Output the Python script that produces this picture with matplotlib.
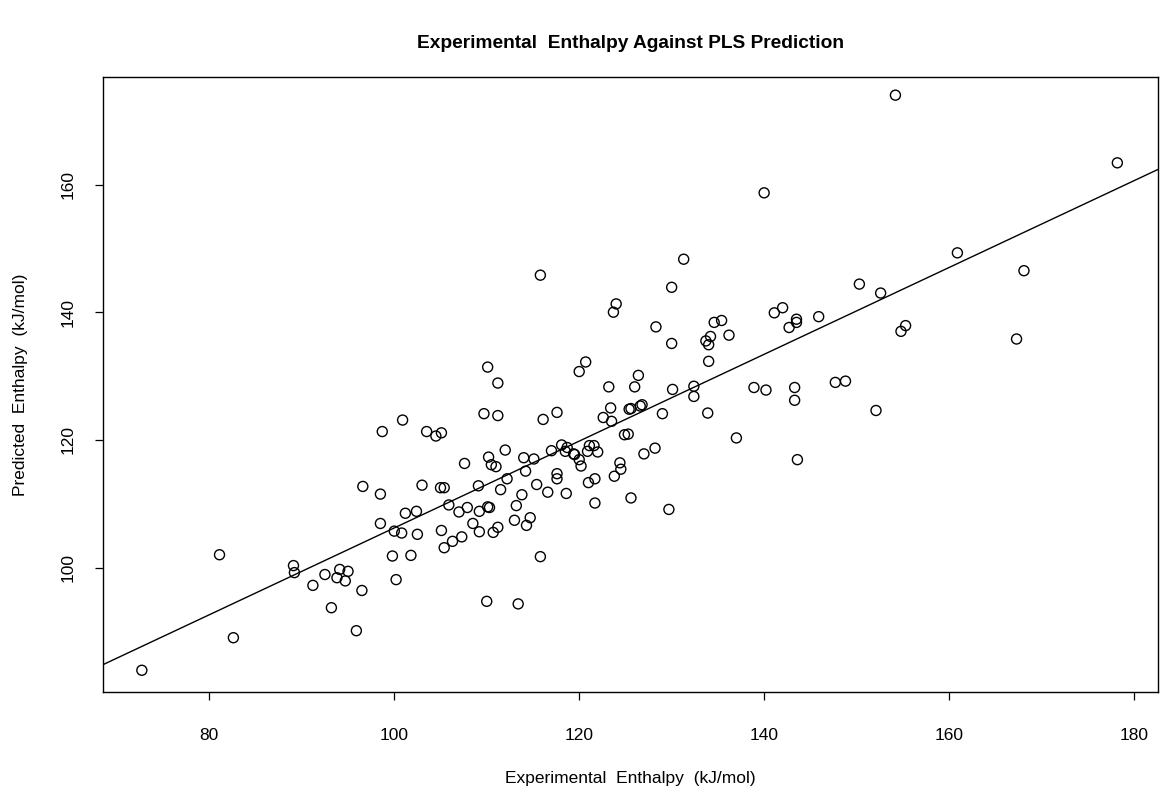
import matplotlib
matplotlib.use("Agg")
import matplotlib.pyplot as plt
import numpy as np

plt.rcParams['font.family'] = ['Liberation Sans', 'DejaVu Sans']

# Experimental enthalpy (kJ/mol)
experimental = [
    72.7, 81.1, 82.6, 89.1, 89.2, 91.2, 92.5, 93.2, 94.1, 93.8,
    95.0, 94.7, 96.5, 95.9, 98.5, 100.0, 99.8, 100.2, 100.8, 110.1,
    111.2, 109.7, 111.2, 116.1, 117.6, 100.9, 98.7, 103.5, 104.5, 105.1,
    112.0, 110.2, 110.5, 111.0, 107.6, 114.0, 115.1, 117.0, 114.2, 112.2,
    111.5, 109.1, 103.0, 105.0, 105.4, 98.5, 115.4, 116.6, 113.8, 117.6,
    117.6, 113.2, 110.1, 110.3, 109.2, 107.9, 107.0, 105.9, 102.4, 101.2,
    102.5, 105.1, 105.4, 106.3, 107.3, 108.5, 109.2, 110.7, 111.2, 113.0,
    114.7, 114.3, 101.8, 115.8, 110.0, 113.4, 131.3, 130.0, 124.0, 123.7,
    115.8, 128.3, 130.0, 134.6, 134.2, 133.7, 134.0, 134.0, 120.7, 120.0,
    126.4, 126.0, 123.2, 130.1, 132.4, 132.4, 133.9, 123.4, 125.4, 125.6,
    126.6, 126.8, 129.0, 122.6, 123.5, 124.9, 125.3, 118.1, 118.7, 118.5,
    119.4, 119.5, 120.0, 120.2, 121.1, 121.6, 120.9, 122.0, 128.2, 127.0,
    124.4, 124.5, 123.8, 121.7, 121.0, 118.6, 121.7, 125.6, 129.7, 150.3,
    152.6, 155.3, 154.8, 141.1, 142.0, 135.4, 136.2, 142.7, 143.5, 143.5,
    145.9, 138.9, 140.2, 143.3, 143.3, 147.7, 148.8, 152.1, 137.0, 143.6,
    154.2, 178.2, 160.9, 168.1, 167.3, 140.0, 96.6,
]

# PLS predicted enthalpy (kJ/mol)
predicted = [
    83.9, 102.0, 89.0, 100.3, 99.2, 97.2, 98.9, 93.7, 99.7, 98.4,
    99.4, 97.9, 96.4, 90.1, 106.9, 105.7, 101.8, 98.1, 105.4, 131.4,
    128.9, 124.1, 123.8, 123.2, 124.3, 123.1, 121.3, 121.3, 120.6, 121.1,
    118.4, 117.3, 116.1, 115.8, 116.3, 117.2, 117.0, 118.3, 115.1, 113.9,
    112.2, 112.8, 112.9, 112.5, 112.5, 111.5, 113.0, 111.8, 111.4, 114.7,
    113.9, 109.7, 109.5, 109.4, 108.8, 109.4, 108.7, 109.8, 108.8, 108.5,
    105.2, 105.8, 103.1, 104.1, 104.8, 106.9, 105.6, 105.5, 106.3, 107.4,
    107.8, 106.6, 101.9, 101.7, 94.7, 94.3, 148.3, 143.9, 141.3, 140.0,
    145.8, 137.7, 135.1, 138.4, 136.2, 135.5, 134.9, 132.3, 132.2, 130.7,
    130.1, 128.3, 128.3, 127.9, 128.4, 126.8, 124.2, 125.0, 124.8, 124.9,
    125.3, 125.5, 124.1, 123.5, 122.9, 120.8, 120.9, 119.2, 118.8, 118.2,
    117.8, 117.7, 116.9, 115.9, 119.1, 119.1, 118.2, 118.1, 118.7, 117.8,
    116.4, 115.4, 114.3, 113.9, 113.3, 111.6, 110.1, 110.9, 109.1, 144.4,
    143.0, 137.9, 137.0, 139.9, 140.7, 138.7, 136.4, 137.6, 138.9, 138.4,
    139.3, 128.2, 127.8, 128.2, 126.2, 129.0, 129.2, 124.6, 120.3, 116.9,
    174.0, 163.4, 149.3, 146.5, 135.8, 158.7, 112.7,
]

# fitted line
fit_intercept = 38.2
fit_slope = 0.680

x_ticks = [80, 100, 120, 140, 160, 180]
y_ticks = [100, 120, 140, 160]

fig = plt.figure(figsize=(11.6, 7.92), dpi=100)
ax = fig.add_axes([0.0888, 0.1263, 0.9095, 0.7765])

ax.scatter(experimental, predicted, s=52, facecolors='none',
           edgecolors='black', linewidths=1.0, zorder=3)

x_lim = (68.5, 182.6)
ax.set_xlim(x_lim)
ax.set_ylim(80.5, 176.85)
line_x = np.array(x_lim)
ax.plot(line_x, fit_intercept + fit_slope * line_x, color='black',
        linewidth=1.0)

ax.set_xticks(x_ticks)
ax.set_yticks(y_ticks)
ax.tick_params(direction='out', length=6, width=0.9, labelsize=12.5)
ax.tick_params(axis='x', pad=20)
ax.tick_params(axis='y', pad=14)
for lab in ax.get_yticklabels():
    lab.set_rotation(90)
    lab.set_va('center')
for spine in ax.spines.values():
    spine.set_linewidth(1.0)

ax.set_xlabel('Experimental  Enthalpy  (kJ/mol)', fontsize=12.5, labelpad=20)
ax.set_ylabel('Predicted  Enthalpy  (kJ/mol)', fontsize=12.5, labelpad=23)
fig.suptitle('Experimental  Enthalpy Against PLS Prediction', x=0.5435,
             y=0.956, fontsize=13.8, fontweight='bold')

fig.savefig('out.png', dpi=100)
